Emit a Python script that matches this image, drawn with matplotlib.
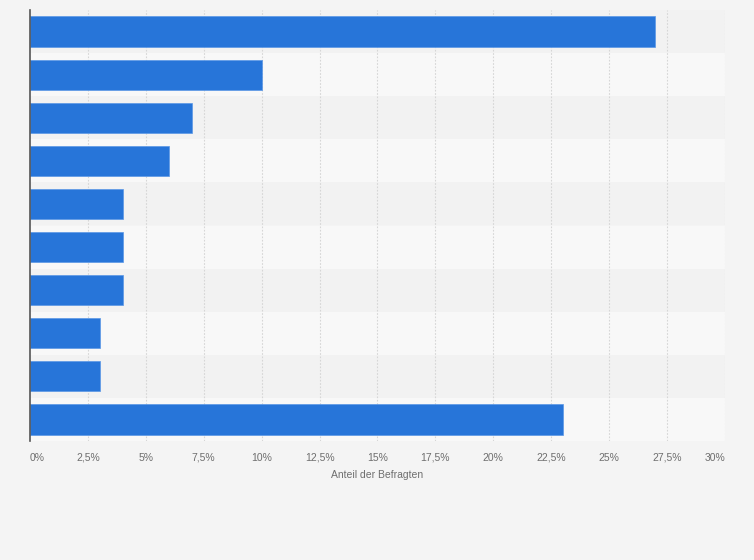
import matplotlib
matplotlib.use("Agg")
import matplotlib.pyplot as plt
import numpy as np

plt.rcParams["font.family"] = ["Liberation Sans", "DejaVu Sans"]

# Data (share of respondents, %)
values = [27, 10, 7, 6, 4, 4, 4, 3, 3, 23]
xticks = [0, 2.5, 5, 7.5, 10, 12.5, 15, 17.5, 20, 22.5, 25, 27.5, 30]
xtick_labels = ["0%", "2,5%", "5%", "7,5%", "10%", "12,5%", "15%", "17,5%",
                "20%", "22,5%", "25%", "27,5%", "30%"]
xlabel = "Anteil der Befragten"

W, H = 754, 560
fig = plt.figure(figsize=(W / 100, H / 100), dpi=100, facecolor="#f4f4f4")
left, right, top, bottom = 30, 725, 10, 441
ax = fig.add_axes([left / W, 1 - bottom / H, (right - left) / W, (bottom - top) / H])
ax.set_facecolor("#f4f4f4")

n = len(values)
ypos = np.arange(n)
for i in range(n):
    ax.axhspan(i - 0.5, i + 0.5, color="#f2f2f2" if i % 2 == 0 else "#f8f8f8", zorder=0, lw=0)

for x in xticks[1:]:
    ax.axvline(x, color="#d6d6d6", lw=0.8, ls=(0, (1.5, 1.5)), zorder=1)

ax.barh(ypos, values, height=0.7, color="#2775d9", edgecolor="#5a97e6", linewidth=0.5, zorder=2)

ax.set_xlim(0, 30)
ax.set_ylim(n - 0.5, -0.5)
ax.set_yticks([])
ax.set_xticks(xticks)
ax.set_xticklabels(xtick_labels)
ax.tick_params(axis="x", length=0, pad=8.5, labelsize=7.5, labelcolor="#6e6e6e")
labels = ax.get_xticklabels()
labels[0].set_ha("left")
labels[0].set_x(0.05)
labels[-1].set_ha("right")

for s in ["top", "right", "bottom"]:
    ax.spines[s].set_visible(False)
ax.spines["left"].set_color("#555555")
ax.spines["left"].set_linewidth(1.2)

ax.set_xlabel(xlabel, fontsize=7.5, color="#6e6e6e", labelpad=5)

fig.savefig("out.png", dpi=100, facecolor=fig.get_facecolor())
